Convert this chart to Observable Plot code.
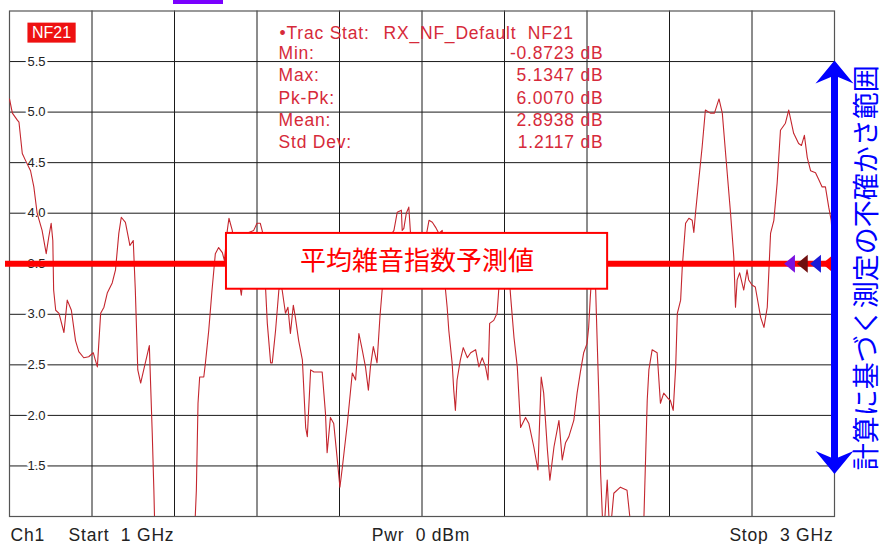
<!DOCTYPE html>
<html><head><meta charset="utf-8">
<script src="https://cdn.jsdelivr.net/npm/d3@7"></script>
<script src="https://cdn.jsdelivr.net/npm/@observablehq/plot@0.6"></script>
<style>
html,body{margin:0;padding:0;background:#fff;}
#chart{width:883px;height:544px;overflow:hidden;}
</style></head><body><div id="chart"></div>
<script>
// ---- data ----
const freqGHz = [1.000,1.007,1.019,1.023,1.031,1.039,1.051,1.059,1.067,1.079,1.089,1.095,1.101,1.105,1.107,1.112,1.120,1.132,1.140,1.150,
1.160,1.168,1.180,1.192,1.203,1.208,1.213,1.221,1.229,1.237,1.249,1.257,1.265,1.271,1.281,1.292,1.300,1.305,1.311,1.318,
1.327,1.339,1.346,1.350,1.354,1.366,1.385,1.405,1.424,1.441,1.448,1.453,1.457,1.461,1.471,1.475,1.483,1.491,1.499,1.507,
1.516,1.521,1.528,1.532,1.540,1.550,1.560,1.562,1.570,1.580,1.592,1.600,1.608,1.613,1.621,1.625,1.633,1.637,1.645,1.653,
1.657,1.661,1.669,1.675,1.681,1.688,1.693,1.701,1.710,1.718,1.722,1.730,1.738,1.758,1.766,1.770,1.778,1.786,1.794,1.801,
1.807,1.819,1.831,1.839,1.847,1.855,1.863,1.870,1.875,1.882,1.891,1.898,1.904,1.914,1.924,1.932,1.940,1.950,1.952,1.956,
1.962,1.968,1.972,1.982,1.996,2.008,2.017,2.025,2.033,2.041,2.049,2.055,2.057,2.061,2.065,2.073,2.077,2.081,2.085,2.093,
2.100,2.110,2.118,2.130,2.138,2.146,2.154,2.160,2.164,2.174,2.182,2.186,2.198,2.210,2.215,2.223,2.231,2.239,2.251,2.259,
2.271,2.281,2.289,2.295,2.304,2.310,2.320,2.332,2.340,2.348,2.356,2.368,2.376,2.384,2.392,2.400,2.404,2.408,2.413,2.421,
2.425,2.429,2.433,2.437,2.440,2.449,2.453,2.457,2.465,2.481,2.497,2.504,2.510,2.520,2.530,2.538,2.546,2.550,2.558,2.570,
2.578,2.586,2.596,2.602,2.609,2.615,2.619,2.627,2.631,2.639,2.647,2.655,2.659,2.663,2.671,2.679,2.687,2.699,2.709,2.720,
2.728,2.736,2.748,2.756,2.760,2.764,2.770,2.780,2.788,2.792,2.800,2.808,2.821,2.829,2.837,2.845,2.853,2.861,2.869,2.881,
2.889,2.901,2.913,2.920,2.927,2.934,2.942,2.954,2.962,2.970,2.978,2.986,2.992,2.995,3.000];
const nfDb = [5.13,4.99,4.92,4.90,4.59,4.52,4.42,4.26,4.00,3.83,3.60,3.76,3.90,3.73,3.24,3.04,3.01,2.82,3.14,3.04,
2.74,2.63,2.57,2.58,2.62,2.55,2.48,3.01,3.07,3.21,3.31,3.44,3.80,3.96,3.91,3.68,3.73,3.24,2.45,2.32,
2.48,2.69,1.83,1.26,0.57,0.20,-0.87,0.10,-0.30,0.50,0.77,1.26,2.12,2.38,2.38,2.52,2.84,3.24,3.60,3.66,
3.61,3.53,3.83,3.95,3.83,3.51,3.24,3.19,3.51,3.81,3.83,3.90,3.90,3.82,3.24,2.91,2.52,2.52,2.84,3.24,
3.29,3.24,3.01,3.07,2.81,3.09,2.97,2.74,2.55,1.88,1.79,2.45,2.43,2.43,2.02,1.63,1.98,1.92,1.59,1.29,
1.49,1.92,2.42,2.35,2.81,2.65,2.48,2.25,2.48,2.68,2.52,2.97,3.27,3.58,3.78,3.83,4.01,4.03,3.83,3.85,
4.00,4.06,3.81,3.51,3.49,3.73,3.93,3.91,3.86,3.80,3.83,3.51,3.24,3.07,2.84,2.52,2.25,2.05,2.35,2.55,
2.67,2.57,2.62,2.65,2.48,2.57,2.48,2.35,2.91,2.94,3.01,3.24,3.58,3.44,3.17,2.77,2.48,1.88,1.98,1.92,
1.69,1.46,2.38,2.22,1.66,1.36,1.69,1.95,1.56,1.73,1.79,1.95,2.22,2.43,2.62,2.71,2.87,3.17,3.49,3.24,
2.69,2.15,1.43,1.03,0.77,1.36,1.01,0.87,1.23,1.29,1.26,0.99,0.40,-0.02,0.55,0.99,2.15,2.45,2.65,2.62,
2.12,2.22,2.17,2.15,2.05,2.48,3.01,3.14,3.47,3.90,3.95,3.93,3.81,4.00,4.33,4.65,5.02,4.99,4.99,5.13,
4.99,4.59,4.00,3.56,3.07,3.34,3.41,3.24,3.44,3.34,3.29,3.27,2.97,2.87,3.07,3.80,3.93,4.30,4.82,4.89,
5.02,4.79,4.69,4.67,4.77,4.55,4.42,4.40,4.33,4.26,4.26,4.06,3.93,3.76,3.70];
const freqDomain = [1, 3];          // Start 1 GHz .. Stop 3 GHz
const nfDomain = [1, 6];            // dB
const xGridGHz = [1.2,1.4,1.6,1.8,2.0,2.2,2.4,2.6,2.8];
const yTickDb = [1.5,2.0,2.5,3.0,3.5,4.0,4.5,5.0,5.5];
const statLabels = ["Min:","Max:","Pk-Pk:","Mean:","Std Dev:"];
const statValues = ["-0.8723 dB","5.1347 dB","6.0070 dB","2.8938 dB","1.2117 dB"];
const predictedNfDb = [3.5];
const boxFreq = [1.526, 2.450];
const boxNf = [3.248, 3.800];
const uncertaintyDb = [1.42, 5.51];
const markerFreq = [2.891, 2.922, 2.954];
const markerColors = ["#7a10e0", "#701010", "#1a1ad8"];
const refMarkerFreq = [2.982];
const footerTexts = ["Ch1", "Start\u00a0\u00a01 GHz", "Pwr\u00a0\u00a00 dBm", "Stop\u00a0\u00a03 GHz"];

// ---- helpers ----
const trace = freqGHz.map((f, i) => ({f, nf: nfDb[i]}));
const sans = "Liberation Sans, Arial, sans-serif";
const cjk = "Noto Sans CJK JP, sans-serif";
const traceRed = "#c4262e";
const statRed = "#d62a3a";

const leftTri = {draw(ctx, size){ const r = Math.sqrt(size/Math.PI); ctx.moveTo(-0.6*r,0); ctx.lineTo(0.6*r,-r); ctx.lineTo(0.6*r,r); ctx.closePath(); }};
const upHead = {draw(ctx){ ctx.moveTo(0,0); ctx.lineTo(19,23); ctx.lineTo(0,15); ctx.lineTo(-19,23); ctx.closePath(); }};
const downHead = {draw(ctx){ ctx.moveTo(0,0); ctx.lineTo(19,-23); ctx.lineTo(0,-15); ctx.lineTo(-19,-23); ctx.closePath(); }};

const statText = (s, dx, dy, anchor) => Plot.text([s], {frameAnchor: "top-left", dx, dy, text: d => d, textAnchor: anchor, lineAnchor: "middle",
  fill: statRed, fontSize: 17.5, fontFamily: sans});
const footText = (s, frameAnchor, dx, anchor) => Plot.text([s], {frameAnchor, dx, dy: 19, text: d => d, textAnchor: anchor, lineAnchor: "middle",
  fill: "#222", fontSize: 17.5, fontFamily: sans});

const chart = Plot.plot({
  width: 883, height: 544,
  marginTop: 10.5, marginRight: 49, marginBottom: 28, marginLeft: 9,
  x: {domain: freqDomain, axis: null},
  y: {domain: nfDomain, axis: null},
  style: {background: "white", overflow: "visible"},
  marks: [
    Plot.ruleY(yTickDb, {stroke: "#1a1a1a", strokeWidth: 1}),
    Plot.ruleX(xGridGHz, {stroke: "#1a1a1a", strokeWidth: 1}),
    Plot.frame({stroke: "#555", strokeWidth: 1.2}),
    Plot.text(yTickDb, {y: d => d, frameAnchor: "left", dx: 18, text: d => d.toFixed(1), textAnchor: "start", lineAnchor: "middle",
      fill: "#222", stroke: "white", strokeWidth: 5, fontSize: 13, fontFamily: sans}),
    Plot.line(trace, {x: "f", y: "nf", stroke: traceRed, strokeWidth: 1.1, clip: true}),
    Plot.ruleY(predictedNfDb, {stroke: "#ff0000", strokeWidth: 6, insetLeft: -4, insetRight: 4}),
    Plot.rect([0], {x1: () => boxFreq[0], x2: () => boxFreq[1], y1: () => boxNf[0], y2: () => boxNf[1],
      fill: "white", stroke: "#ff0000", strokeWidth: 2}),
    Plot.text(["平均雑音指数予測値"], {x: () => (boxFreq[0]+boxFreq[1])/2, y: () => (boxNf[0]+boxNf[1])/2, text: d => d,
      textAnchor: "middle", lineAnchor: "middle", fill: "#ff0000", fontSize: 26, fontFamily: cjk, fontWeight: 400}),
    Plot.dot(markerFreq, {x: d => d, y: () => predictedNfDb[0], symbol: leftTri, r: 9, fill: (d, i) => markerColors[i], stroke: null}),
    Plot.dot(refMarkerFreq, {x: d => d, y: () => predictedNfDb[0], symbol: leftTri, r: 8, fill: "#ff0000", stroke: null}),
    Plot.ruleX([freqDomain[1]], {y1: () => uncertaintyDb[0] + 0.1, y2: () => uncertaintyDb[1] - 0.1, stroke: "#0000ff", strokeWidth: 7}),
    Plot.dot([uncertaintyDb[1]], {x: () => freqDomain[1], y: d => d, symbol: upHead, r: 5, fill: "#0000ff", stroke: null}),
    Plot.dot([uncertaintyDb[0]], {x: () => freqDomain[1], y: d => d, symbol: downHead, r: 5, fill: "#0000ff", stroke: null}),
    Plot.text(["計算に基づく測定の不確かさ範囲"], {frameAnchor: "right", dx: 33, dy: 4, rotate: -90, text: d => d,
      textAnchor: "middle", lineAnchor: "middle", fill: "#0000ff", fontSize: 27, fontFamily: cjk}),
    Plot.text(["NF21"], {frameAnchor: "top-left", dx: 42, dy: 22, text: d => d, textAnchor: "middle", lineAnchor: "middle",
      fill: "white", fontSize: 16, fontFamily: sans}),
    statText("•Trac Stat:", 270, 22.5, "start"),
    statText("RX_NF_Default\u00a0\u00a0NF21", 374, 22.5, "start"),
    ...statLabels.map((s, i) => statText(s, 269, 42.5 + 22.3 * i, "start")),
    ...statValues.map((s, i) => statText(s, 594, 42.5 + 22.3 * i, "end")),
    footText(footerTexts[0], "bottom-left", 1, "start"),
    footText(footerTexts[1], "bottom-left", 59, "start"),
    footText(footerTexts[2], "bottom", -1, "middle"),
    footText(footerTexts[3], "bottom-right", -1, "end")
  ]
});
document.getElementById("chart").appendChild(chart);

const svg = d3.select(chart);
// slightly wider letter spacing for the instrument-style Latin texts
svg.selectAll("text").each(function() {
  const fs = parseFloat(d3.select(this.parentNode).attr("font-size") || d3.select(this).attr("font-size") || 0);
  if (fs === 17.5) d3.select(this).style("letter-spacing", "0.8px");
});
// red background behind the NF21 trace label
svg.selectAll("text").filter(function() { return this.textContent === "NF21"; }).each(function() {
  const b = this.getBBox();
  const t = d3.select(this);
  d3.select(this.parentNode).insert("rect", () => this)
    .attr("transform", t.attr("transform"))
    .attr("x", b.x - 4.5).attr("y", b.y - 1.5)
    .attr("width", b.width + 9).attr("height", b.height + 3)
    .attr("fill", "#ee1111");
});
// cut-off header strip at the very top
svg.append("rect").attr("x", 173).attr("y", 0).attr("width", 50).attr("height", 4).attr("fill", "#7a00ff");
</script></body></html>
